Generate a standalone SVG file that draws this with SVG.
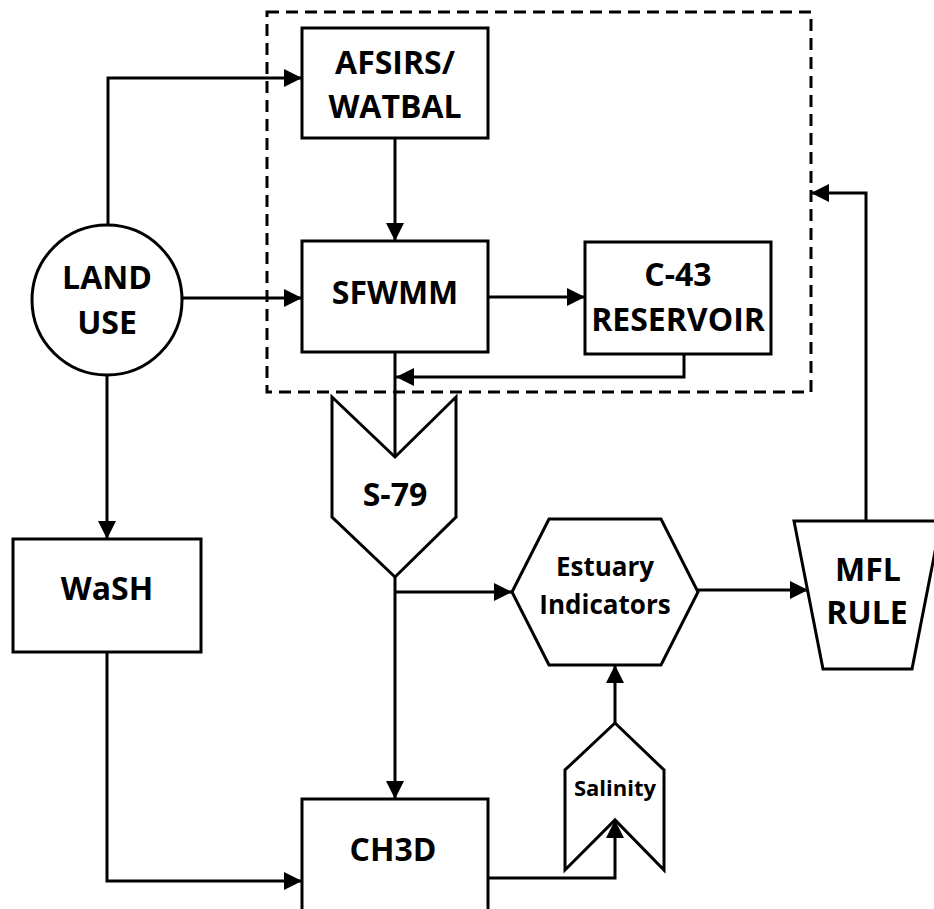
<svg xmlns="http://www.w3.org/2000/svg" width="934" height="909" viewBox="0 0 934 909">
<style>
.shape{fill:#fff;stroke:#000;stroke-width:3}
.conn{fill:none;stroke:#000;stroke-width:3}
.dash{fill:none;stroke:#000;stroke-width:3;stroke-dasharray:12 7}
text{font-family:"Open Sans","Liberation Sans",sans-serif;font-weight:700;fill:#000;text-anchor:middle}
.big{font-size:32px}
.mid{font-size:26px}
.sm{font-size:22px}
</style>
<defs>
<marker id="ah" markerUnits="userSpaceOnUse" markerWidth="18" markerHeight="18" refX="18" refY="9" orient="auto">
<path d="M0,0 L18,9 L0,18 z" fill="#000"/>
</marker>
</defs>
<rect width="934" height="909" fill="#fff"/>
<rect id="group-box" class="dash" x="267" y="12" width="544" height="380"/>
<g id="land-use">
<circle class="shape" cx="107" cy="300" r="75"/>
<text class="big" x="107" y="289">LAND</text>
<text class="big" x="107" y="334">USE</text>
</g>
<g id="afsirs">
<rect class="shape" x="302" y="28" width="186" height="110"/>
<text class="big" x="395" y="74">AFSIRS/</text>
<text class="big" x="395" y="118">WATBAL</text>
</g>
<g id="sfwmm">
<rect class="shape" x="302" y="241" width="186" height="111"/>
<text class="big" x="395" y="304">SFWMM</text>
</g>
<g id="c43">
<rect class="shape" x="585" y="242" width="186" height="112"/>
<text class="big" x="678" y="286">C-43</text>
<text class="big" x="678" y="331">RESERVOIR</text>
</g>
<g id="wash">
<rect class="shape" x="13" y="539" width="188" height="113"/>
<text class="big" x="107" y="600">WaSH</text>
</g>
<g id="s79">
<polygon class="shape" points="332,397 395,457 456,397 456,517 395,577 332,517"/>
<text class="big" x="395" y="506">S-79</text>
</g>
<g id="estuary">
<polygon class="shape" points="512,592 549,519 661,519 698,592 661,665 549,665"/>
<text class="mid" x="605" y="576">Estuary</text>
<text class="mid" x="605" y="614">Indicators</text>
</g>
<g id="mfl">
<polygon class="shape" points="794,521 941,521 912,669 823,669"/>
<text class="big" x="868" y="581">MFL</text>
<text class="big" x="867" y="624">RULE</text>
</g>
<g id="salinity">
<polygon class="shape" points="615,723 664,770 664,870 615,820 565,870 565,770"/>
<text class="sm" x="615" y="796">Salinity</text>
</g>
<g id="ch3d">
<rect class="shape" x="302" y="799" width="186" height="125"/>
<text class="big" x="393" y="861">CH3D</text>
</g>
<g id="connectors">
<path class="conn" d="M108,225 V78 H302" marker-end="url(#ah)"/>
<path class="conn" d="M182,298 H302" marker-end="url(#ah)"/>
<path class="conn" d="M107,375 V539" marker-end="url(#ah)"/>
<path class="conn" d="M107,652 V881 H302" marker-end="url(#ah)"/>
<path class="conn" d="M395,138 V241" marker-end="url(#ah)"/>
<path class="conn" d="M488,297 H585" marker-end="url(#ah)"/>
<path class="conn" d="M684,354 V377 H396" marker-end="url(#ah)"/>
<path class="conn" d="M395,352 V457"/>
<path class="conn" d="M395,577 V799" marker-end="url(#ah)"/>
<path class="conn" d="M395,592 H512" marker-end="url(#ah)"/>
<path class="conn" d="M698,590 H808" marker-end="url(#ah)"/>
<path class="conn" d="M866,521 V193 H811" marker-end="url(#ah)"/>
<path class="conn" d="M615,723 V665" marker-end="url(#ah)"/>
<path class="conn" d="M488,878 H615 V820" marker-end="url(#ah)"/>
</g>
</svg>
